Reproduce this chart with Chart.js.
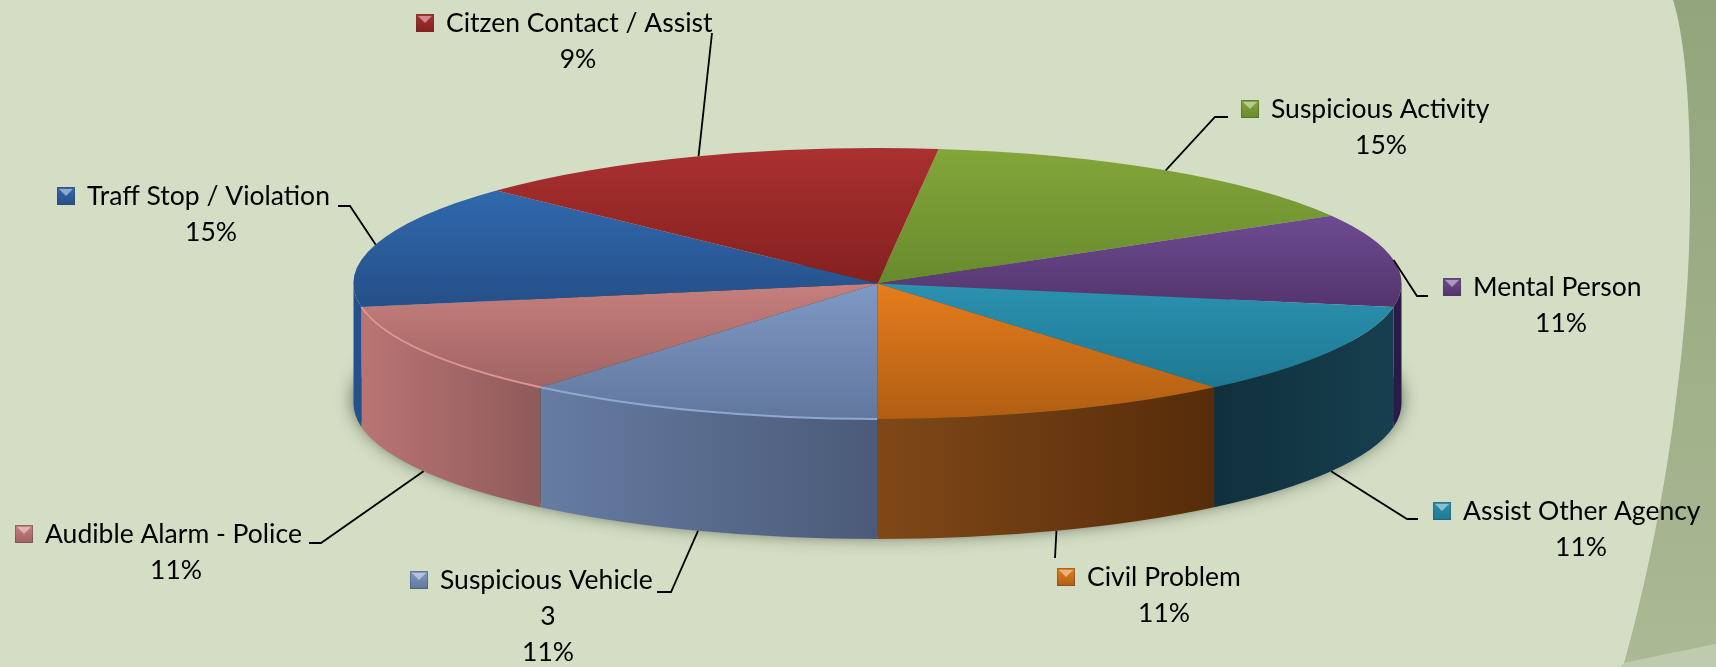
<!DOCTYPE html>
<html>
<head>
<meta charset="utf-8">
<style>
  html, body { margin: 0; padding: 0; background: #d4dec4; overflow: hidden; }
  canvas { display: block; }
</style>
<script src="https://cdn.jsdelivr.net/npm/chart.js"></script>
</head>
<body>
<canvas id="pieChart" width="1716" height="667"></canvas>
<script>
const categories = ['Suspicious Activity', 'Mental Person', 'Assist Other Agency', 'Civil Problem',
    'Suspicious Vehicle', 'Audible Alarm - Police', 'Traff Stop / Violation', 'Citzen Contact / Assist'];
const counts = [4, 3, 3, 3, 3, 3, 4, 4];
const percentLabels = ['15%', '11%', '11%', '11%', '11%', '11%', '15%', '9%'];
const valueLabels = ['', '', '', '', '3', '', '', ''];

// top face gradient, far edge then near edge
const topLight = ['#83a63a', '#6d4b90', '#2b92b0', '#e67d1e', '#7f99c6', '#c67f7d', '#3069ae', '#aa3130'];
const topDark = ['#688a2d', '#54346e', '#1e7893', '#b05e13', '#61779d', '#a06463', '#254f88', '#84201f'];
// side wall gradient, left then right
const wallLeft = ['#556f25', '#2a1a48', '#10303c', '#804818', '#667ca2', '#ba7474', '#24508c', '#6e1a1a'];
const wallRight = ['#556f25', '#2a1a48', '#163f4f', '#562c0a', '#4b5a78', '#8f5a5a', '#24508c', '#6e1a1a'];

// label layout: text x, first baseline, x centre of the lower lines
const labelX = [1271, 1473, 1463, 1087, 440, 45, 87, 446];
const labelY = [118, 296, 520, 586, 589, 543, 205, 32];
const labelCentre = [1381, 1561, 1581, 1164, 548, 176, 211, 578];
// leader line bends after leaving the pie rim
const leaderBends = [
    [[1215, 117], [1228, 117]],
    [[1417, 296], [1428, 296]],
    [[1407, 519], [1418, 519]],
    [[1055, 558]],
    [[671, 592], [657, 592]],
    [[321, 543], [309, 543]],
    [[350, 206], [338, 206]],
    [[712, 33]]
];

const ROTATION = 6.7;
const CX = 877.5, CY = 283.5, RX = 524, RY = 135.5, DEPTH = 120;
const FONT = '26.5px Lato';
const LINE_GAP = 36;

function sliceGradient(c) {
    const meta = c.chart.getDatasetMeta(0);
    const R = meta.controller.outerRadius;
    const i = c.dataIndex;
    if (!R) return topLight[i];
    const total = counts.reduce((a, b) => a + b, 0);
    let start = (ROTATION - 90) * Math.PI / 180;
    for (let k = 0; k < i; k++) start += counts[k] / total * Math.PI * 2;
    const end = start + counts[i] / total * Math.PI * 2;
    let lo = Math.min(0, Math.sin(start), Math.sin(end));
    let hi = Math.max(0, Math.sin(start), Math.sin(end));
    // sector passing straight up or straight down
    if (start < -Math.PI / 2 && end > -Math.PI / 2) lo = -1;
    if (start < Math.PI / 2 && end > Math.PI / 2) hi = 1;
    const area = c.chart.chartArea;
    const y = (area.top + area.bottom) / 2;
    const g = c.chart.ctx.createLinearGradient(0, y + R * lo, 0, y + R * hi);
    g.addColorStop(0, topLight[i]);
    g.addColorStop(1, topDark[i]);
    return g;
}

const pie3d = {
    id: 'pie3d',
    beforeDraw(chart) {
        const ctx = chart.ctx;
        ctx.save();
        ctx.fillStyle = '#d4dec4';
        ctx.fillRect(0, 0, 1716, 667);

        // band along the bottom right corner
        ctx.fillStyle = '#bfcbae';
        ctx.beginPath();
        ctx.moveTo(1624, 663);
        ctx.lineTo(1716, 644);
        ctx.lineTo(1716, 667);
        ctx.lineTo(1620, 667);
        ctx.closePath();
        ctx.fill();

        // curved panel on the right
        const g = ctx.createLinearGradient(0, 0, 0, 667);
        g.addColorStop(0, '#92a57b');
        g.addColorStop(1, '#abb994');
        ctx.fillStyle = g;
        ctx.beginPath();
        ctx.moveTo(1673, 0);
        ctx.bezierCurveTo(1686, 40, 1691, 120, 1690, 200);
        ctx.bezierCurveTo(1690, 270, 1684, 340, 1676, 400);
        ctx.bezierCurveTo(1667, 480, 1645, 590, 1624, 663);
        ctx.lineTo(1716, 644);
        ctx.lineTo(1716, 0);
        ctx.closePath();
        ctx.fill();
        ctx.restore();
    },
    beforeDatasetsDraw(chart) {
        const ctx = chart.ctx;
        const arcs = chart.getDatasetMeta(0).data;

        // soft shadow under the base
        ctx.save();
        ctx.shadowColor = 'rgba(50,55,40,0.85)';
        ctx.shadowBlur = 18;
        ctx.fillStyle = '#3a4030';
        ctx.beginPath();
        ctx.ellipse(CX, CY + DEPTH - 4, RX - 1, RY, 0, 0, Math.PI * 2);
        ctx.fill();
        ctx.restore();

        // side walls, front half only
        arcs.forEach((arc, i) => {
            const lo = Math.max(arc.startAngle, 0);
            const hi = Math.min(arc.endAngle, Math.PI);
            if (hi <= lo) return;
            const xa = CX + RX * Math.cos(hi);
            const xb = CX + RX * Math.cos(lo);
            const g = ctx.createLinearGradient(xa, 0, xb, 0);
            g.addColorStop(0, wallLeft[i]);
            g.addColorStop(1, wallRight[i]);
            ctx.fillStyle = g;
            ctx.beginPath();
            ctx.ellipse(CX, CY, RX, RY, 0, lo, hi);
            ctx.ellipse(CX, CY + DEPTH, RX, RY, 0, hi, lo, true);
            ctx.closePath();
            ctx.fill();
        });

        // squash the circle into the top face
        const first = arcs[0];
        ctx.save();
        ctx.translate(CX, CY);
        ctx.scale(RX / first.outerRadius, RY / first.outerRadius);
        ctx.translate(-first.x, -first.y);
    },
    afterDatasetsDraw(chart) {
        const ctx = chart.ctx;
        ctx.restore();
        const arcs = chart.getDatasetMeta(0).data;

        // light rim on the two pale slices
        [[4, '#8ea8d2'], [5, '#dc9493']].forEach(([i, colour]) => {
            ctx.strokeStyle = colour;
            ctx.lineWidth = 2;
            ctx.beginPath();
            ctx.ellipse(CX, CY, RX, RY, 0, arcs[i].startAngle, arcs[i].endAngle);
            ctx.stroke();
        });

        arcs.forEach((arc, i) => {
            // leader line starts at the middle of the slice
            const mid = (arc.startAngle + arc.endAngle) / 2;
            let y = CY + RY * Math.sin(mid);
            if (Math.sin(mid) > 0.3) y += DEPTH;
            ctx.strokeStyle = '#000';
            ctx.lineWidth = 1.8;
            ctx.beginPath();
            ctx.moveTo(CX + RX * Math.cos(mid), y);
            leaderBends[i].forEach(p => ctx.lineTo(p[0], p[1]));
            ctx.stroke();

            // bevelled legend key
            const kx = labelX[i] - 30, ky = labelY[i] - 18;
            const g = ctx.createLinearGradient(0, ky, 0, ky + 18);
            g.addColorStop(0, topLight[i]);
            g.addColorStop(1, topDark[i]);
            ctx.fillStyle = g;
            ctx.fillRect(kx, ky, 18, 18);
            ctx.fillStyle = 'rgba(255,255,255,0.45)';
            ctx.beginPath();
            ctx.moveTo(kx + 2, ky + 2);
            ctx.lineTo(kx + 16, ky + 2);
            ctx.lineTo(kx + 9, ky + 9);
            ctx.closePath();
            ctx.fill();
            ctx.strokeStyle = 'rgba(60,60,60,0.35)';
            ctx.lineWidth = 1;
            ctx.strokeRect(kx + 0.5, ky + 0.5, 17, 17);

            // text
            ctx.fillStyle = '#000';
            ctx.font = FONT;
            ctx.textBaseline = 'alphabetic';
            ctx.textAlign = 'left';
            ctx.fillText(categories[i], labelX[i], labelY[i]);
            ctx.textAlign = 'center';
            let line = labelY[i] + LINE_GAP;
            if (valueLabels[i]) {
                ctx.fillText(valueLabels[i], labelCentre[i], line);
                line += LINE_GAP;
            }
            ctx.fillText(percentLabels[i], labelCentre[i], line);
        });
    }
};

document.addEventListener('DOMContentLoaded', function() {
    new Chart(document.getElementById('pieChart').getContext('2d'), {
        type: 'pie',
        data: {
            labels: categories,
            datasets: [{
                data: counts,
                backgroundColor: sliceGradient,
                borderWidth: 0,
                clip: false
            }]
        },
        options: {
            responsive: false,
            animation: false,
            rotation: ROTATION,
            plugins: {
                legend: { display: false },
                tooltip: { enabled: false }
            }
        },
        plugins: [pie3d]
    });
});
</script>
</body>
</html>
